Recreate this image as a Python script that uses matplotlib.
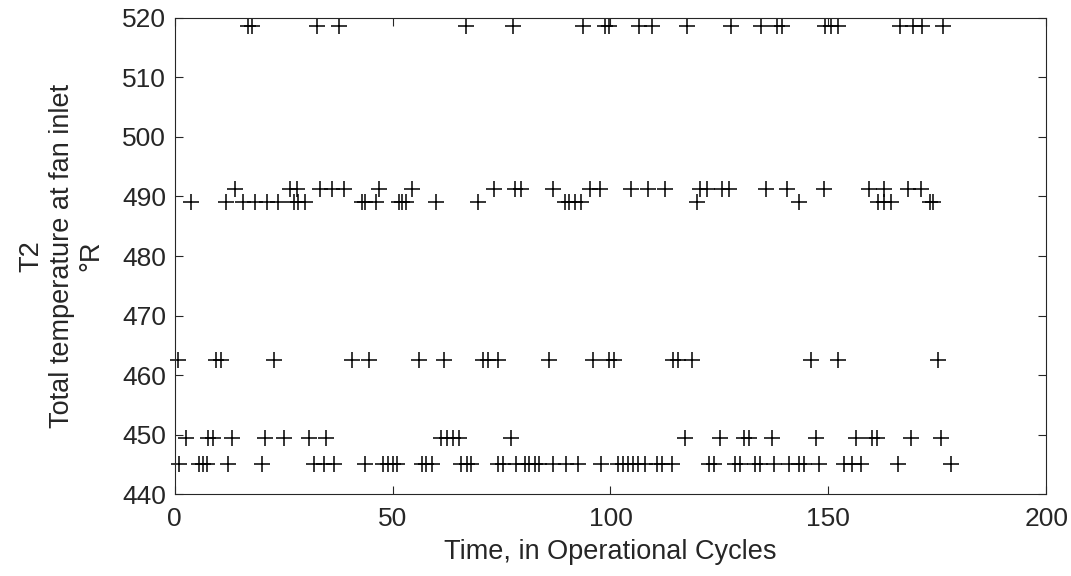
import matplotlib
matplotlib.use("Agg")
import matplotlib.pyplot as plt

# T2 levels (°R) and cycle times
t_518 = [16.8, 17.7, 32.7, 37.7, 66.8, 77.7, 93.8, 98.7, 99.7, 106.6, 109.5, 117.5,
         127.7, 134.5, 138.2, 139.3, 149.3, 150.6, 152.3, 166.5, 169.4, 171.5, 176.4]
t_491 = [13.8, 26.5, 28.0, 33.4, 36.1, 38.8, 46.8, 54.5, 73.3, 78.0, 79.5, 86.8, 95.2,
         97.5, 104.8, 108.7, 112.5, 120.6, 122.1, 125.6, 127.1, 135.6, 140.6, 149.0,
         159.4, 162.8, 168.2, 171.3]
t_489 = [3.8, 11.9, 15.7, 18.4, 21.1, 23.8, 27.3, 28.4, 30.0, 43.0, 43.8, 46.1, 51.5,
         52.2, 53.0, 59.9, 69.5, 89.5, 90.6, 91.8, 93.3, 119.8, 143.2, 161.3, 162.8,
         164.4, 173.2, 174.1]
t_462 = [0.8, 9.6, 10.6, 22.7, 40.7, 44.5, 56.1, 61.8, 70.7, 71.8, 74.1, 86.0, 96.0,
         99.6, 100.8, 114.4, 115.6, 118.7, 145.9, 152.1, 175.1]
t_449 = [2.7, 7.7, 8.8, 13.1, 20.7, 25.1, 30.9, 34.7, 61.1, 62.6, 63.9, 65.3, 77.2,
         117.1, 125.2, 130.6, 131.7, 137.1, 147.1, 156.3, 160.0, 161.1, 169.0, 175.9]
t_445 = [1.0, 5.5, 6.5, 7.5, 12.3, 20.0, 31.9, 34.2, 36.5, 43.8, 47.8, 48.9, 50.0,
         51.0, 56.8, 57.6, 59.1, 65.7, 67.2, 68.0, 74.1, 75.3, 78.3, 80.3, 81.4, 82.6,
         83.7, 86.8, 89.9, 92.6, 97.9, 101.8, 102.9, 104.1, 105.2, 106.4, 107.9, 110.6,
         111.8, 114.1, 122.5, 123.7, 128.6, 129.8, 133.2, 134.4, 137.5, 140.9, 143.2,
         144.4, 147.9, 153.6, 155.5, 157.4, 165.9, 178.2]
levels = [518.67, 491.19, 489.05, 462.54, 449.44, 445.00]
series = [t_518, t_491, t_489, t_462, t_449, t_445]

x_ticks = [0, 50, 100, 150, 200]
y_ticks = [440, 450, 460, 470, 480, 490, 500, 510, 520]

plt.rcParams['font.family'] = ['Liberation Sans', 'DejaVu Sans']
fg = '#262626'

fig = plt.figure(figsize=(10.71, 5.76), dpi=100)
ax = fig.add_axes([0.163, 0.142, 0.814, 0.827])

for lvl, ts in zip(levels, series):
    ax.plot(ts, [lvl] * len(ts), linestyle='none', marker='+', color='black',
            markersize=11, markeredgewidth=1.1, clip_on=False)

ax.set_xlim(0, 200)
ax.set_ylim(440, 520)
ax.set_xticks(x_ticks)
ax.set_yticks(y_ticks)
ax.tick_params(direction='in', top=True, right=True, length=6, width=0.8,
               colors=fg, labelsize=19, labelcolor=fg)
ax.tick_params(axis='x', pad=9)
ax.tick_params(axis='y', pad=6)
for s in ax.spines.values():
    s.set_color(fg)
    s.set_linewidth(0.8)

ax.set_xlabel('Time, in Operational Cycles', fontsize=19.5, color=fg, labelpad=6)
ax.set_ylabel('T2\nTotal temperature at fan inlet\n°R', fontsize=19.5, color=fg,
              linespacing=1.2)
ax.yaxis.set_label_coords(-0.08, 0.5)

fig.savefig('out.png', dpi=100)
